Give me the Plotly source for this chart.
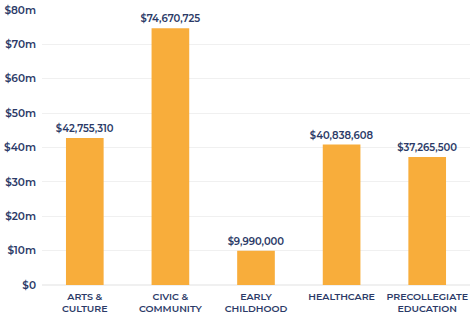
import plotly.graph_objects as go

categories = ["ARTS &<br>CULTURE", "CIVIC &<br>COMMUNITY", "EARLY<br>CHILDHOOD",
              "HEALTHCARE", "PRECOLLEGIATE<br>EDUCATION"]
amounts = [42755310, 74670725, 9990000, 40838608, 37265500]
tick_values = [0, 10e6, 20e6, 30e6, 40e6, 50e6, 60e6, 70e6, 80e6]
tick_labels = ["$0", "$10m", "$20m", "$30m", "$40m", "$50m", "$60m", "$70m", "$80m"]

navy = "#2b3a67"
font_family = "Montserrat, 'Open Sans', Lato, sans-serif"

fig = go.Figure(go.Bar(
    x=categories,
    y=amounts,
    marker=dict(color="#f8ad3b", line=dict(width=0)),
    text=[f"${v:,.0f}" for v in amounts],
    textposition="outside",
    constraintext="none",
    textfont=dict(color=navy, size=10, family=font_family, weight=600),
    cliponaxis=False,
))

fig.update_layout(
    width=474, height=322,
    margin=dict(l=40, r=4, t=10, b=37),
    paper_bgcolor="white", plot_bgcolor="white",
    bargap=0.56,
    showlegend=False,
    font=dict(family=font_family, color=navy),
)
fig.update_xaxes(
    tickfont=dict(size=9.5, color=navy, family=font_family, weight=600),
    showgrid=False, showline=False, ticks="", ticklabelstandoff=4,
)
fig.update_yaxes(
    range=[0, 80e6],
    tickvals=tick_values, ticktext=tick_labels,
    tickfont=dict(size=10.5, color=navy, family=font_family, weight=600),
    showgrid=True, gridcolor="#f0f0f0", gridwidth=1,
    zeroline=True, zerolinecolor="#f0f0f0",
    ticks="", ticklabelstandoff=5,
)

fig.write_html("out.html")
